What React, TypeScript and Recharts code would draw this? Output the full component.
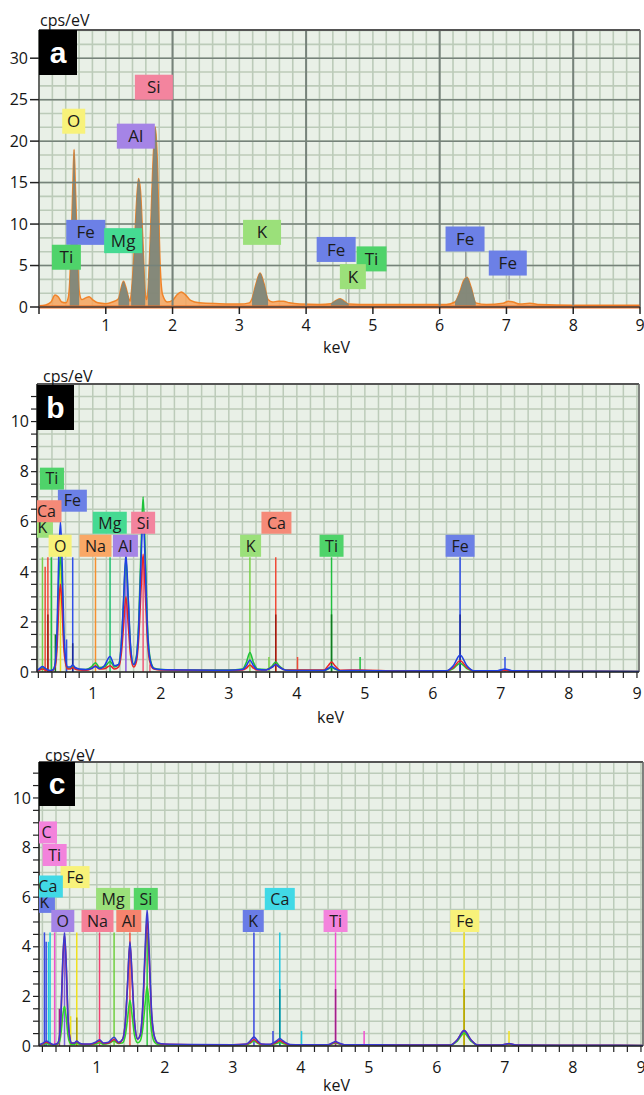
import React from 'react';
import { ComposedChart, Area, Line, XAxis, YAxis, CartesianGrid, ReferenceLine, ReferenceDot } from 'recharts';

const FONT = '"Open Sans", "DejaVu Sans", sans-serif';
const BG = '#e9f0e7';
const MINOR = '#bccbb9';
const MAJOR = '#76827a';

// ---------------- Panel a ----------------
const A_KEV = [0.00, 0.10, 0.18, 0.24, 0.29, 0.34, 0.40, 0.44, 0.46, 0.49, 0.51, 0.525, 0.545, 0.57, 0.60, 0.64, 0.70, 0.75, 0.80, 0.88,
  1.00, 1.10, 1.19, 1.23, 1.265, 1.30, 1.35, 1.365, 1.38, 1.42, 1.46, 1.49, 1.52, 1.55, 1.59, 1.61, 1.63, 1.67, 1.70, 1.74,
  1.77, 1.79, 1.81, 1.85, 1.92, 2.00, 2.07, 2.13, 2.19, 2.27, 2.40, 2.70, 3.00, 3.15, 3.19, 3.25, 3.31, 3.37, 3.43, 3.50,
  3.58, 3.66, 3.75, 3.90, 4.20, 4.37, 4.45, 4.51, 4.57, 4.64, 4.80, 5.50, 6.10, 6.23, 6.30, 6.36, 6.41, 6.47, 6.54, 6.70,
  6.95, 7.03, 7.10, 7.20, 7.35, 7.50, 8.00, 9.00];
const A_CPS = [0.15, 0.25, 0.6, 1.45, 1.2, 0.6, 0.5, 1.2, 3.0, 10, 15.5, 19, 14.5, 8, 2.0, 0.9, 1.1, 1.25, 0.9, 0.5,
  0.4, 0.6, 1.0, 2.3, 3.1, 2.4, 0.9, 0.7, 1.5, 6, 12.5, 15.5, 14, 9, 1.8, 0.9, 1.8, 9, 16, 21.7,
  18, 12, 6, 1.5, 0.6, 0.8, 1.5, 1.8, 1.5, 0.8, 0.5, 0.4, 0.35, 0.5, 1.0, 2.8, 4.1, 2.8, 0.9, 0.6,
  0.7, 0.7, 0.5, 0.35, 0.3, 0.4, 0.8, 1.0, 0.7, 0.35, 0.3, 0.3, 0.3, 0.6, 1.8, 3.2, 3.6, 2.4, 0.5, 0.3,
  0.45, 0.7, 0.6, 0.35, 0.45, 0.3, 0.2, 0.2];
const A_PEAK_WINDOWS = [[0.46, 0.60], [1.19, 1.35], [1.38, 1.59], [1.63, 1.81], [3.19, 3.43], [4.37, 4.64], [6.23, 6.54]];
const A_X_TICKS = [0, 1, 2, 3, 4, 5, 6, 7, 8, 9];
const A_Y_TICKS = [0, 5, 10, 15, 20, 25, 30];
const A_MAJOR_X = [2, 4, 6, 8];
const A_GRID_X = Array.from({ length: 46 }, (_, i) => Math.round(i * 2) / 10);
const A_GRID_Y = Array.from({ length: 21 }, (_, i) => (i * 5) / 3);
const A_LABELS: [string, number, number][] = [
  ['Si', 1.72, 26.5], ['O', 0.52, 22.4], ['Al', 1.45, 20.6], ['Fe', 0.70, 9.0], ['Mg', 1.26, 8.0], ['Ti', 0.41, 6.0],
  ['K', 3.34, 9.0], ['Fe', 4.45, 6.94], ['Ti', 4.98, 5.8], ['K', 4.70, 3.66], ['Fe', 6.38, 8.2], ['Fe', 7.02, 5.3],
];
const A_LEADERS: [number, number, number][] = [[6.39, 3.6, 6.7], [7.04, 0.9, 3.8], [4.64, 0.5, 2.2]];

// style for panel a labels
const A_BOX_W = [38, 23, 38, 39, 38, 29, 38, 39, 30, 26, 39, 38];
const A_COLORS: Record<string, string> = {
  Si: '#f3849e', O: '#f8f27a', Al: '#a584e6', Fe: '#6c80e6', Mg: '#45da92', Ti: '#4fd36a', K: '#9be07a',
};

// ---------------- Panel b ----------------
const B_KEV = [0.18, 0.22, 0.26, 0.30, 0.34, 0.38, 0.42, 0.45, 0.475, 0.50, 0.525, 0.55, 0.575, 0.60, 0.63, 0.67, 0.705, 0.74, 0.80, 0.90,
  0.98, 1.04, 1.10, 1.17, 1.254, 1.32, 1.38, 1.42, 1.45, 1.487, 1.52, 1.555, 1.60, 1.64, 1.675, 1.71, 1.74, 1.77, 1.805, 1.85,
  1.90, 2.0, 2.4, 3.0, 3.2, 3.26, 3.31, 3.36, 3.42, 3.55, 3.64, 3.69, 3.74, 3.84, 4.0, 4.4, 4.46, 4.51, 4.56, 4.64,
  4.93, 5.5, 6.2, 6.30, 6.40, 6.50, 6.60, 6.95, 7.06, 7.16, 8.0, 9.03];
const B_GREEN = [0.05, 0.10, 0.16, 0.12, 0.06, 0.05, 0.10, 0.35, 1.4, 3.6, 4.7, 3.4, 1.3, 0.45, 0.15, 0.15, 0.22, 0.15, 0.10, 0.10,
  0.2, 0.37, 0.18, 0.2, 0.42, 0.2, 0.3, 1.1, 2.6, 4.5, 2.9, 1.0, 0.3, 0.6, 2.0, 5.0, 7.0, 4.9, 1.8, 0.45,
  0.15, 0.1, 0.08, 0.08, 0.12, 0.4, 0.78, 0.4, 0.12, 0.1, 0.25, 0.4, 0.25, 0.08, 0.07, 0.06, 0.12, 0.18, 0.12, 0.05,
  0.05, 0.04, 0.04, 0.14, 0.35, 0.14, 0.04, 0.04, 0.07, 0.04, 0.03, 0.02];
const B_RED = [0.04, 0.08, 0.12, 0.08, 0.05, 0.04, 0.08, 0.25, 1.0, 2.7, 3.5, 2.5, 0.95, 0.35, 0.12, 0.12, 0.18, 0.12, 0.08, 0.07,
  0.14, 0.25, 0.12, 0.13, 0.25, 0.12, 0.2, 0.75, 1.75, 3.0, 1.95, 0.68, 0.2, 0.4, 1.35, 3.35, 4.7, 3.3, 1.2, 0.3,
  0.12, 0.08, 0.07, 0.06, 0.08, 0.16, 0.28, 0.16, 0.08, 0.08, 0.2, 0.3, 0.2, 0.07, 0.08, 0.08, 0.25, 0.4, 0.25, 0.07,
  0.08, 0.04, 0.04, 0.18, 0.45, 0.18, 0.04, 0.04, 0.07, 0.04, 0.03, 0.02];
const B_BLUE = [0.06, 0.14, 0.22, 0.15, 0.08, 0.06, 0.10, 0.40, 1.7, 4.6, 6.0, 4.3, 1.6, 0.55, 0.2, 0.2, 0.28, 0.18, 0.12, 0.10,
  0.14, 0.22, 0.14, 0.25, 0.62, 0.25, 0.3, 1.15, 2.7, 4.7, 3.0, 1.05, 0.3, 0.55, 1.8, 4.5, 6.3, 4.4, 1.6, 0.4,
  0.14, 0.1, 0.08, 0.07, 0.1, 0.26, 0.48, 0.26, 0.1, 0.08, 0.2, 0.3, 0.2, 0.07, 0.06, 0.06, 0.14, 0.22, 0.14, 0.05,
  0.06, 0.04, 0.05, 0.25, 0.68, 0.25, 0.05, 0.05, 0.12, 0.05, 0.03, 0.02];
const B_MARKERS: [string, number, number][] = [
  ['K', 0.26, 4.58], ['Ca', 0.30, 4.2], ['Ca', 0.34, 4.58], ['Ti', 0.39, 4.58], ['O', 0.525, 4.58], ['Fe', 0.615, 1.3],
  ['Fe', 0.705, 4.58], ['Na', 1.04, 4.58], ['Mg', 1.254, 4.58], ['Al', 1.487, 4.58], ['Si', 1.74, 4.58], ['Si', 1.84, 0.3],
  ['K', 3.31, 4.58], ['K', 3.59, 0.6], ['Ca', 3.69, 4.58], ['Ca', 4.01, 0.6], ['Ti', 4.51, 4.58], ['Ti', 4.93, 0.6],
  ['Fe', 6.40, 4.58], ['Fe', 7.06, 0.6],
];
const B_MARKERS_DARK: [string, number, number][] = [
  ['Ca', 0.34, 2.3], ['Ti', 0.45, 1.5], ['Fe', 0.705, 1.15], ['Ca', 3.69, 2.3], ['Ti', 4.51, 2.3], ['Fe', 6.40, 2.3],
];
const B_LABELS: [string, number, number][] = [
  ['Ti', 0.40, 7.72], ['Fe', 0.70, 6.84], ['K', 0.26, 5.8], ['Ca', 0.32, 6.42], ['O', 0.52, 5.04], ['Na', 1.04, 5.04],
  ['Mg', 1.25, 5.96], ['Al', 1.48, 5.04], ['Si', 1.74, 5.96], ['K', 3.32, 5.04], ['Ca', 3.70, 5.96], ['Ti', 4.51, 5.04],
  ['Fe', 6.40, 5.04],
];

// ---------------- Panel c ----------------
const C_KEV = [0.15, 0.20, 0.26, 0.31, 0.36, 0.42, 0.45, 0.475, 0.50, 0.525, 0.55, 0.575, 0.60, 0.63, 0.67, 0.705, 0.74, 0.80, 0.90, 0.98,
  1.04, 1.10, 1.17, 1.254, 1.32, 1.38, 1.42, 1.45, 1.487, 1.52, 1.555, 1.60, 1.64, 1.675, 1.71, 1.74, 1.77, 1.805, 1.85, 1.90,
  2.0, 2.4, 3.0, 3.2, 3.26, 3.31, 3.36, 3.42, 3.55, 3.64, 3.69, 3.74, 3.84, 4.0, 4.4, 4.46, 4.51, 4.56, 4.64, 4.93,
  5.5, 6.2, 6.30, 6.40, 6.50, 6.60, 6.95, 7.06, 7.16, 8.0, 9.03];
const C_BLUE = [0.05, 0.1, 0.2, 0.12, 0.06, 0.1, 0.35, 1.4, 3.5, 4.55, 3.3, 1.25, 0.4, 0.12, 0.12, 0.2, 0.12, 0.08, 0.08, 0.15,
  0.25, 0.12, 0.15, 0.35, 0.15, 0.28, 1.0, 2.4, 4.2, 2.7, 0.95, 0.28, 0.45, 1.6, 3.9, 5.5, 3.8, 1.4, 0.35, 0.12,
  0.08, 0.06, 0.05, 0.08, 0.22, 0.36, 0.22, 0.08, 0.07, 0.2, 0.3, 0.2, 0.06, 0.05, 0.05, 0.12, 0.18, 0.12, 0.05, 0.05,
  0.04, 0.04, 0.25, 0.62, 0.25, 0.04, 0.04, 0.1, 0.04, 0.03, 0.02];
const C_RED = [0.04, 0.08, 0.15, 0.1, 0.05, 0.09, 0.33, 1.35, 3.4, 4.45, 3.2, 1.2, 0.38, 0.11, 0.11, 0.18, 0.11, 0.07, 0.07, 0.12,
  0.2, 0.1, 0.12, 0.26, 0.12, 0.28, 0.98, 2.35, 4.15, 2.65, 0.93, 0.28, 0.45, 1.48, 3.6, 5.15, 3.5, 1.3, 0.33, 0.11,
  0.07, 0.05, 0.05, 0.07, 0.16, 0.26, 0.16, 0.07, 0.06, 0.15, 0.22, 0.15, 0.05, 0.05, 0.05, 0.1, 0.15, 0.1, 0.05, 0.05,
  0.04, 0.04, 0.25, 0.62, 0.25, 0.04, 0.04, 0.09, 0.04, 0.03, 0.02];
const C_GREEN = [0.03, 0.06, 0.1, 0.06, 0.04, 0.06, 0.15, 0.55, 1.25, 1.6, 1.15, 0.45, 0.15, 0.06, 0.06, 0.12, 0.07, 0.05, 0.05, 0.08,
  0.13, 0.07, 0.1, 0.2, 0.1, 0.13, 0.45, 1.05, 1.85, 1.2, 0.42, 0.13, 0.22, 0.7, 1.7, 2.4, 1.65, 0.6, 0.15, 0.06,
  0.05, 0.04, 0.04, 0.05, 0.12, 0.2, 0.12, 0.05, 0.05, 0.1, 0.15, 0.1, 0.04, 0.04, 0.04, 0.08, 0.12, 0.08, 0.04, 0.04,
  0.03, 0.03, 0.2, 0.52, 0.2, 0.03, 0.03, 0.07, 0.03, 0.02, 0.02];
const C_MARKERS: [string, number, number][] = [
  ['K', 0.23, 4.58], ['K', 0.255, 4.2], ['Ca', 0.29, 4.2], ['Ca', 0.313, 4.58], ['Ti', 0.38, 4.58], ['O', 0.525, 4.58],
  ['Fe', 0.615, 1.2], ['Fe', 0.705, 4.58], ['Na', 1.04, 4.58], ['Mg', 1.254, 4.58], ['Al', 1.487, 4.58], ['Si', 1.74, 4.58],
  ['K', 3.31, 4.58], ['K', 3.59, 0.6], ['Ca', 3.69, 4.58], ['Ca', 4.01, 0.6], ['Ti', 4.51, 4.58], ['Ti', 4.93, 0.6],
  ['Fe', 6.40, 4.58], ['Fe', 7.06, 0.6],
];
const C_MARKERS_DARK: [string, number, number][] = [
  ['Ti', 0.45, 1.5], ['Fe', 0.705, 1.15], ['Ca', 3.69, 2.3], ['Ti', 4.51, 2.3], ['Fe', 6.40, 2.3],
];
const C_LABELS: [string, number, number][] = [
  ['C', 0.26, 8.61], ['Ti', 0.38, 7.70], ['Fe', 0.68, 6.81], ['K', 0.23, 5.81], ['Ca', 0.28, 6.43], ['O', 0.50, 5.04],
  ['Na', 1.01, 5.04], ['Mg', 1.24, 5.93], ['Al', 1.47, 5.04], ['Si', 1.72, 5.93], ['K', 3.30, 5.04], ['Ca', 3.69, 5.93],
  ['Ti', 4.51, 5.04], ['Fe', 6.41, 5.04],
];

// shared ticks for b and c
const BC_X_TICKS = Array.from({ length: 45 }, (_, i) => Math.round((i + 1) * 2) / 10);
const BC_X_LABELS = [1, 2, 3, 4, 5, 6, 7, 8, 9];
const BC_Y_TICKS = Array.from({ length: 23 }, (_, i) => i / 2);
const BC_Y_LABELS = [0, 2, 4, 6, 8, 10];

// ---------------- styles ----------------
type ElStyle = { box: string; line: string; dark: string };
const B_STYLE: Record<string, ElStyle> = {
  K: { box: '#9be07a', line: '#7ad04a', dark: '#3f8a20' },
  Ca: { box: '#f58a78', line: '#f04a38', dark: '#a01c10' },
  Ti: { box: '#4fd36a', line: '#22c040', dark: '#107a20' },
  O: { box: '#f8f27a', line: '#ecdc20', dark: '#a09000' },
  Fe: { box: '#6c80e6', line: '#3050e8', dark: '#1a2a9a' },
  Na: { box: '#f9a866', line: '#f59030', dark: '#a05a10' },
  Mg: { box: '#45da92', line: '#20c070', dark: '#107a40' },
  Al: { box: '#a584e6', line: '#8a5ae0', dark: '#50308a' },
  Si: { box: '#f3849e', line: '#f05878', dark: '#a02040' },
};
const C_STYLE: Record<string, ElStyle> = {
  C: { box: '#f383dc', line: '#f050d0', dark: '#a0208a' },
  Ti: { box: '#f383dc', line: '#f050d0', dark: '#a0208a' },
  Fe: { box: '#f8f27a', line: '#f0e020', dark: '#b0a000' },
  Ca: { box: '#41d9e6', line: '#20c8e0', dark: '#008a9a' },
  K: { box: '#6a7ce6', line: '#3848e0', dark: '#1a2090' },
  O: { box: '#a484e6', line: '#8060e0', dark: '#40308a' },
  Na: { box: '#f48098', line: '#f04070', dark: '#a01040' },
  Mg: { box: '#9be07a', line: '#70d040', dark: '#3f8a20' },
  Al: { box: '#f5836e', line: '#f05040', dark: '#a02010' },
  Si: { box: '#55d566', line: '#30c840', dark: '#108020' },
};

const CHAR_EM: Record<string, number> = { F: 0.57, e: 0.56, M: 0.89, g: 0.55, S: 0.55, i: 0.25, A: 0.63, l: 0.25, O: 0.78, T: 0.55, K: 0.6, C: 0.63, a: 0.56, N: 0.75 };
const textW = (t: string, fs: number) => t.split('').reduce((s, c) => s + (CHAR_EM[c] ?? 0.6), 0) * fs;

type Rect = { x: number; y: number; w: number; h: number };

const labelShape = (text: string, fill: string, w: number, h: number, fs: number, clipId: string, clip: Rect) => (p: any) => {
  const cx = p.cx, cy = p.cy;
  if (cx == null || cy == null) return <g />;
  return (
    <g>
      <defs>
        <clipPath id={clipId}>
          <rect x={clip.x} y={clip.y} width={clip.w} height={clip.h} />
        </clipPath>
      </defs>
      <g clipPath={`url(#${clipId})`}>
        <rect x={cx - w / 2} y={cy - h / 2} width={w} height={h} fill={fill} />
        <text x={cx} y={cy} dy="0.36em" textAnchor="middle" fontSize={fs} fontFamily={FONT} fill="#1c1c1c">{text}</text>
      </g>
    </g>
  );
};

const tickStyle = { fontSize: 16, fill: '#151515', fontFamily: FONT };

function PanelA() {
  const data = A_KEV.map((k, i) => ({ kev: k, cps: A_CPS[i] }));
  const peaks = A_PEAK_WINDOWS.map(([s, e]) => data.filter((d) => d.kev >= s - 1e-9 && d.kev <= e + 1e-9));
  const clip: Rect = { x: 39, y: 30, w: 601, h: 277 };
  return (
    <ComposedChart width={644} height={340} data={data} margin={{ top: 30, right: 4, bottom: 0, left: 0 }}>
      <CartesianGrid xAxisId="g" yAxisId="g" fill={BG} stroke={MINOR} strokeWidth={1.6} />
      <XAxis xAxisId="g" type="number" dataKey="kev" domain={[0, 9]} ticks={A_GRID_X} interval={0} hide allowDataOverflow />
      <YAxis yAxisId="g" type="number" domain={[0, 33.4]} ticks={A_GRID_Y} interval={0} hide allowDataOverflow />
      <XAxis type="number" dataKey="kev" domain={[0, 9]} ticks={A_X_TICKS} interval={0} height={33}
        tickFormatter={(v: number) => (v === 0 ? '' : String(v))} tickSize={7} tickMargin={6}
        axisLine={{ stroke: '#444', strokeWidth: 1.5 }} tickLine={{ stroke: '#222', strokeWidth: 1.5 }} tick={tickStyle} allowDataOverflow />
      <YAxis type="number" domain={[0, 33.4]} ticks={A_Y_TICKS} interval={0} width={39} tickSize={9} tickMargin={2}
        axisLine={{ stroke: '#444', strokeWidth: 1.5 }} tickLine={{ stroke: '#222', strokeWidth: 1.5 }} tick={tickStyle} allowDataOverflow />
      {A_MAJOR_X.map((v) => <ReferenceLine key={'mx' + v} x={v} stroke={MAJOR} strokeWidth={2} />)}
      {A_Y_TICKS.filter((v) => v > 0).map((v) => <ReferenceLine key={'my' + v} y={v} stroke={MAJOR} strokeWidth={1.5} />)}
      <ReferenceLine y={33.4} stroke="#555" strokeWidth={2} />
      <ReferenceLine x={9} stroke="#666" strokeWidth={1.5} />
      <Area type="monotone" dataKey="cps" stroke="#f0842a" strokeWidth={1.5} fill="#f7a35c" fillOpacity={0.85} isAnimationActive={false} dot={false} activeDot={false} />
      {peaks.map((p, i) => (
        <Area key={'pk' + i} data={p} type="monotone" dataKey="cps" stroke="none" fill="#7b857b" fillOpacity={0.92} isAnimationActive={false} dot={false} activeDot={false} />
      ))}
      <ReferenceLine y={0} stroke="#f26b1d" strokeWidth={3} />
      {A_LEADERS.map(([x, y1, y2], i) => (
        <ReferenceLine key={'ld' + i} segment={[{ x, y: y1 }, { x, y: y2 }]} stroke="#8a8f8a" strokeWidth={1} />
      ))}
      {A_LABELS.map(([t, x, y], i) => (
        <ReferenceDot key={'al' + i} x={x} y={y} r={0}
          shape={labelShape(t, A_COLORS[t], A_BOX_W[i], 25, 17, 'clipA' + i, clip)} />
      ))}
    </ComposedChart>
  );
}

type PanelCfg = {
  height: number; marginTop: number; marginRight: number; yAxisWidth: number; xHeight: number;
  xDomain: [number, number]; yMax: number; kev: number[];
  series: { values: number[]; color: string }[];
  markers: [string, number, number][]; dark: [string, number, number][]; labels: [string, number, number][];
  style: Record<string, ElStyle>; clip: Rect; id: string;
};

function SpectrumPanel(c: PanelCfg) {
  const data = c.kev.map((k, i) => {
    const row: Record<string, number> = { kev: k };
    c.series.forEach((s, j) => { row['s' + j] = s.values[i]; });
    return row;
  });
  return (
    <ComposedChart width={644} height={c.height} data={data} margin={{ top: c.marginTop, right: c.marginRight, bottom: 0, left: 0 }}>
      <CartesianGrid fill={BG} stroke={MINOR} strokeWidth={1.5} />
      <XAxis type="number" dataKey="kev" domain={c.xDomain} ticks={BC_X_TICKS} interval={0} height={c.xHeight}
        tickFormatter={(v: number) => (BC_X_LABELS.includes(Math.round(v * 10) / 10) ? String(Math.round(v)) : '')}
        tickSize={6} tickMargin={10} axisLine={{ stroke: '#222', strokeWidth: 1.5 }} tickLine={{ stroke: '#222', strokeWidth: 1.2 }}
        tick={tickStyle} allowDataOverflow />
      <YAxis type="number" domain={[0, c.yMax]} ticks={BC_Y_TICKS} interval={0} width={c.yAxisWidth}
        tickFormatter={(v: number) => (BC_Y_LABELS.includes(v) ? String(v) : '')}
        tickSize={6} tickMargin={2} axisLine={{ stroke: '#222', strokeWidth: 1.5 }} tickLine={{ stroke: '#222', strokeWidth: 1.2 }}
        tick={tickStyle} allowDataOverflow />
      <ReferenceLine y={c.yMax} stroke="#555" strokeWidth={2} />
      <ReferenceLine x={c.xDomain[1]} stroke="#666" strokeWidth={1.5} />
      {c.markers.map(([el, x, top], i) => (
        <ReferenceLine key={c.id + 'm' + i} segment={[{ x, y: 0 }, { x, y: top }]} stroke={c.style[el].line} strokeWidth={1.5} />
      ))}
      {c.dark.map(([el, x, top], i) => (
        <ReferenceLine key={c.id + 'd' + i} segment={[{ x, y: 0 }, { x, y: top }]} stroke={c.style[el].dark} strokeWidth={1.5} />
      ))}
      {c.series.map((s, j) => (
        <Line key={c.id + 's' + j} type="monotone" dataKey={'s' + j} stroke={s.color} strokeWidth={1.6} dot={false} activeDot={false} isAnimationActive={false} />
      ))}
      {c.labels.map(([t, x, y], i) => {
        const w = Math.round(textW(t, 16) + 11);
        return (
          <ReferenceDot key={c.id + 'l' + i} x={x} y={y} r={0}
            shape={labelShape(t, c.style[t].box, w, 22, 16, c.id + 'clip' + i, c.clip)} />
        );
      })}
    </ComposedChart>
  );
}

const textStyle: React.CSSProperties = { position: 'absolute', fontFamily: FONT, fontSize: 16, color: '#151515', lineHeight: '16px', whiteSpace: 'nowrap' };
const letterStyle: React.CSSProperties = { position: 'absolute', background: '#000', color: '#fff', fontFamily: '"Liberation Sans", Arial, sans-serif', fontWeight: 700, fontSize: 30, display: 'flex', alignItems: 'center', justifyContent: 'center' };

export default function App() {
  return (
    <div style={{ position: 'absolute', left: 0, top: 0, width: 644, height: 1095, background: '#fff', overflow: 'hidden', fontFamily: FONT }}>
      <div style={{ position: 'absolute', left: 0, top: 0 }}><PanelA /></div>
      <div style={{ position: 'absolute', left: 0, top: 350 }}>
        <SpectrumPanel id="b" height={360} marginTop={34} marginRight={5} yAxisWidth={37} xHeight={38}
          xDomain={[0.18, 9.03]} yMax={11.5} kev={B_KEV}
          series={[{ values: B_GREEN, color: '#1fc23a' }, { values: B_RED, color: '#e8262a' }, { values: B_BLUE, color: '#1f3fe6' }]}
          markers={B_MARKERS} dark={B_MARKERS_DARK} labels={B_LABELS} style={B_STYLE}
          clip={{ x: 37, y: 34, w: 602, h: 288 }} />
      </div>
      <div style={{ position: 'absolute', left: 0, top: 730 }}>
        <SpectrumPanel id="c" height={365} marginTop={32} marginRight={1} yAxisWidth={39} xHeight={49}
          xDomain={[0.15, 9.03]} yMax={11.45} kev={C_KEV}
          series={[{ values: C_GREEN, color: '#2cd62c' }, { values: C_RED, color: '#e0183c' }, { values: C_BLUE, color: '#3a3ad0' }]}
          markers={C_MARKERS} dark={C_MARKERS_DARK} labels={C_LABELS} style={C_STYLE}
          clip={{ x: 39, y: 32, w: 604, h: 284 }} />
      </div>

      <div style={{ ...textStyle, left: 40, top: 12 }}>cps/eV</div>
      <div style={{ ...textStyle, left: 43, top: 368 }}>cps/eV</div>
      <div style={{ ...textStyle, left: 45, top: 747 }}>cps/eV</div>
      <div style={{ ...textStyle, left: 323, top: 339 }}>keV</div>
      <div style={{ ...textStyle, left: 317, top: 709 }}>keV</div>
      <div style={{ ...textStyle, left: 323, top: 1077 }}>keV</div>

      <div style={{ ...letterStyle, left: 39, top: 30, width: 38, height: 45 }}>a</div>
      <div style={{ ...letterStyle, left: 37, top: 385, width: 37, height: 45 }}>b</div>
      <div style={{ ...letterStyle, left: 39, top: 762, width: 36, height: 44 }}>c</div>
    </div>
  );
}
